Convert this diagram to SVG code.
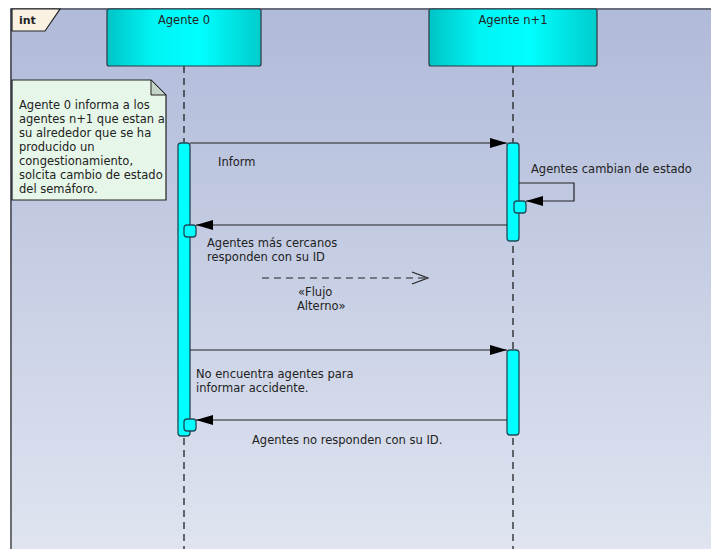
<svg xmlns="http://www.w3.org/2000/svg" width="711" height="549" viewBox="0 0 711 549">
  <defs>
    <linearGradient id="bg" x1="0" y1="0" x2="0" y2="1">
      <stop offset="0" stop-color="#b0bad9"/>
      <stop offset="1" stop-color="#dfe4f0"/>
    </linearGradient>
    <linearGradient id="head" x1="0" y1="0" x2="1" y2="0">
      <stop offset="0" stop-color="#00c4c6"/>
      <stop offset="0.3" stop-color="#00f4f4"/>
      <stop offset="0.6" stop-color="#00ffff"/>
      <stop offset="1" stop-color="#00cccc"/>
    </linearGradient>
    <marker id="filled" markerWidth="18" markerHeight="12" refX="17" refY="6" orient="auto" markerUnits="userSpaceOnUse">
      <path d="M0,1 L17,6 L0,11 Z" fill="#000"/>
    </marker>
    <marker id="open" markerWidth="18" markerHeight="14" refX="17" refY="7" orient="auto" markerUnits="userSpaceOnUse">
      <path d="M1,1 L17,7 L1,13" fill="none" stroke="#222" stroke-width="1.2"/>
    </marker>
  </defs>
  <style>
    text { font-family: "DejaVu Sans", "Open Sans", sans-serif; font-size: 11.5px; fill: #222; }
    .lifeline { stroke: #111; stroke-width: 1.2; stroke-dasharray: 7 5; }
    .head { fill: url(#head); stroke: #2a3a44; stroke-width: 1.2; }
    .bar { fill: #00ffff; stroke: #1e4a58; stroke-width: 1.3; }
    .msg { fill: none; stroke: #222; stroke-width: 1.2; }
  </style>

  <!-- page and frame -->
  <rect x="0" y="0" width="711" height="549" fill="#ffffff"/>
  <rect x="10" y="8" width="701" height="541" fill="url(#bg)"/>
  <path d="M11,549 V9 H711" fill="none" stroke="#222" stroke-width="1.2"/>
  <g id="frame-tab">
    <polygon points="12,9 60,9 45,31 12,31" fill="#fbf1e2" stroke="#222" stroke-width="1.2"/>
    <text x="19" y="24" style="font-weight:bold;font-size:11px">int</text>
  </g>

  <!-- lifelines -->
  <g id="agente0">
    <line class="lifeline" x1="184" y1="66" x2="184" y2="549"/>
    <rect class="head" x="107" y="9" width="154" height="57" rx="2"/>
    <text x="184" y="24" text-anchor="middle">Agente 0</text>
  </g>
  <g id="agente-n1">
    <line class="lifeline" x1="513" y1="66" x2="513" y2="549"/>
    <rect class="head" x="429" y="9" width="168" height="57" rx="2"/>
    <text x="513" y="24" text-anchor="middle">Agente n+1</text>
  </g>

  <!-- note -->
  <g id="note">
    <path d="M12,80 H151 L166,95 V200 H12 Z" fill="#e6f6e8" stroke="#222" stroke-width="1.2"/>
    <path d="M151,80 V95 H166 Z" fill="#c4d4c8" stroke="#222" stroke-width="1"/>
    <text x="19" y="109">Agente 0 informa a los</text>
    <text x="19" y="123">agentes n+1 que estan a</text>
    <text x="19" y="137">su alrededor que se ha</text>
    <text x="19" y="151">producido un</text>
    <text x="19" y="165">congestionamiento,</text>
    <text x="19" y="179">solcita cambio de estado</text>
    <text x="19" y="193">del semáforo.</text>
  </g>

  <!-- activations -->
  <g id="activations">
    <rect class="bar" x="178" y="143" width="12" height="293" rx="3"/>
    <rect class="bar" x="507" y="143" width="12" height="98" rx="3"/>
    <rect class="bar" x="507" y="350" width="12" height="85" rx="3"/>
  </g>

  <!-- messages -->
  <g id="connectors">
    <line class="msg" x1="190" y1="143" x2="507" y2="143" marker-end="url(#filled)"/>
    <path class="msg" d="M519,183 H574 V201 H526" marker-end="url(#filled)"/>
    <line class="msg" x1="507" y1="225" x2="196" y2="225" marker-end="url(#filled)"/>
    <line class="msg" x1="262" y1="278" x2="428" y2="278" stroke-dasharray="7 5" marker-end="url(#open)"/>
    <line class="msg" x1="190" y1="350" x2="507" y2="350" marker-end="url(#filled)"/>
    <line class="msg" x1="507" y1="420" x2="196" y2="420" marker-end="url(#filled)"/>
    <rect class="bar" x="514" y="201" width="12" height="12" rx="3"/>
    <rect class="bar" x="184" y="225" width="12" height="12" rx="3"/>
    <rect class="bar" x="184" y="419" width="12" height="12" rx="3"/>
  </g>

  <!-- message labels -->
  <g id="labels">
    <text x="218" y="166">Inform</text>
    <text x="531" y="173">Agentes cambian de estado</text>
    <text x="207" y="247">Agentes más cercanos</text>
    <text x="207" y="261">responden con su ID</text>
    <text x="298" y="296">«Flujo</text>
    <text x="297" y="310">Alterno»</text>
    <text x="196" y="378">No encuentra agentes para</text>
    <text x="196" y="392">informar accidente.</text>
    <text x="252" y="444">Agentes no responden con su ID.</text>
  </g>
</svg>
